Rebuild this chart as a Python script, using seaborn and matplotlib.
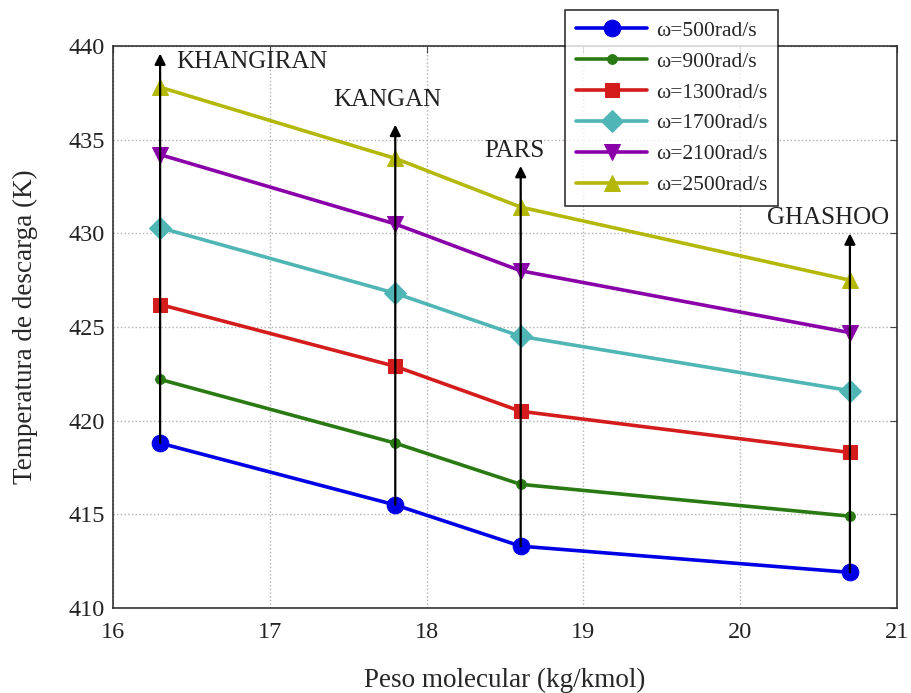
import pandas as pd
import matplotlib
matplotlib.use("Agg")
import matplotlib.pyplot as plt
import seaborn as sns

# Datos
peso = [16.3, 17.8, 18.6, 20.7]
gases = ["KHANGIRAN", "KANGAN", "PARS", "GHASHOO"]
series = ["ω=500rad/s", "ω=900rad/s", "ω=1300rad/s",
          "ω=1700rad/s", "ω=2100rad/s", "ω=2500rad/s"]
t500 = [418.8, 415.5, 413.3, 411.9]
t900 = [422.2, 418.8, 416.6, 414.9]
t1300 = [426.2, 422.9, 420.5, 418.3]
t1700 = [430.3, 426.8, 424.5, 421.6]
t2100 = [434.2, 430.5, 428.0, 424.7]
t2500 = [437.8, 434.0, 431.4, 427.5]
flecha_top = [439.6, 435.8, 433.6, 430.0]
etiqueta_x = [16.4, 17.75, 18.56, 20.56]
etiqueta_y = [439.15, 437.1, 434.4, 430.8]

valores = [t500, t900, t1300, t1700, t2100, t2500]
filas = []
for nombre, vals in zip(series, valores):
    for x, y in zip(peso, vals):
        filas.append({"peso": x, "temp": y, "serie": nombre})
df = pd.DataFrame(filas)

colores = ["#0000e6", "#2a7a14", "#d41c1c", "#4fb5b5", "#8a00a8", "#b4b80a"]
marcas = ["o", "o", "s", "D", "v", "^"]
tamanos = [12, 7, 10, 11, 12, 12]

sns.set_style("white")
plt.rcParams["font.family"] = ["Liberation Serif", "DejaVu Serif"]

fig = plt.figure(figsize=(9.12, 6.93), dpi=100)
ax = fig.add_axes([0.124, 0.1227, 0.8595, 0.8109])

for nombre, c, m, s in zip(series, colores, marcas, tamanos):
    sns.lineplot(data=df[df["serie"] == nombre], x="peso", y="temp",
                 color=c, marker=m, markersize=s, markeredgecolor=c,
                 linewidth=2.6, label=nombre, ax=ax, zorder=2)

# Flechas verticales desde la curva inferior
for x, y0, y1 in zip(peso, t500, flecha_top):
    ax.annotate("", xy=(x, y1), xytext=(x, y0),
                arrowprops=dict(arrowstyle="-|>", color="black", lw=1.6,
                                mutation_scale=16, shrinkA=0, shrinkB=0),
                zorder=3)
for g, lx, ly in zip(gases, etiqueta_x, etiqueta_y):
    ha = "left" if g == "KHANGIRAN" else "center"
    ax.text(lx, ly, g, fontsize=18, ha=ha, va="center", color="#222222")

ax.set_xlim(16, 21)
ax.set_ylim(410, 440)
ax.set_xticks([16, 17, 18, 19, 20, 21])
ax.set_yticks([410, 415, 420, 425, 430, 435, 440])
ax.grid(True, linestyle=":", color="#b0b0b0", linewidth=1)
ax.tick_params(direction="in", top=True, right=True, length=5,
               labelsize=17.5, color="#444444", labelcolor="#222222")
ax.tick_params(axis="x", pad=10)
ax.tick_params(axis="y", pad=6)
for sp in ax.spines.values():
    sp.set_color("#333333")
    sp.set_linewidth(1.2)

ax.set_xlabel("Peso molecular (kg/kmol)", fontsize=19.5, labelpad=18)
ax.set_ylabel("Temperatura de descarga (K)", fontsize=19.5, labelpad=22)

h, l = ax.get_legend_handles_labels()
leg = ax.legend(h, l, loc="upper left", bbox_to_anchor=(0.577, 1.064),
                fontsize=15.5, frameon=True, fancybox=False, edgecolor="black",
                handlelength=3.3, handletextpad=0.4, labelspacing=0.5,
                borderpad=0.5, borderaxespad=0)
leg.get_frame().set_linewidth(1.2)

fig.savefig("out.png", dpi=100)
